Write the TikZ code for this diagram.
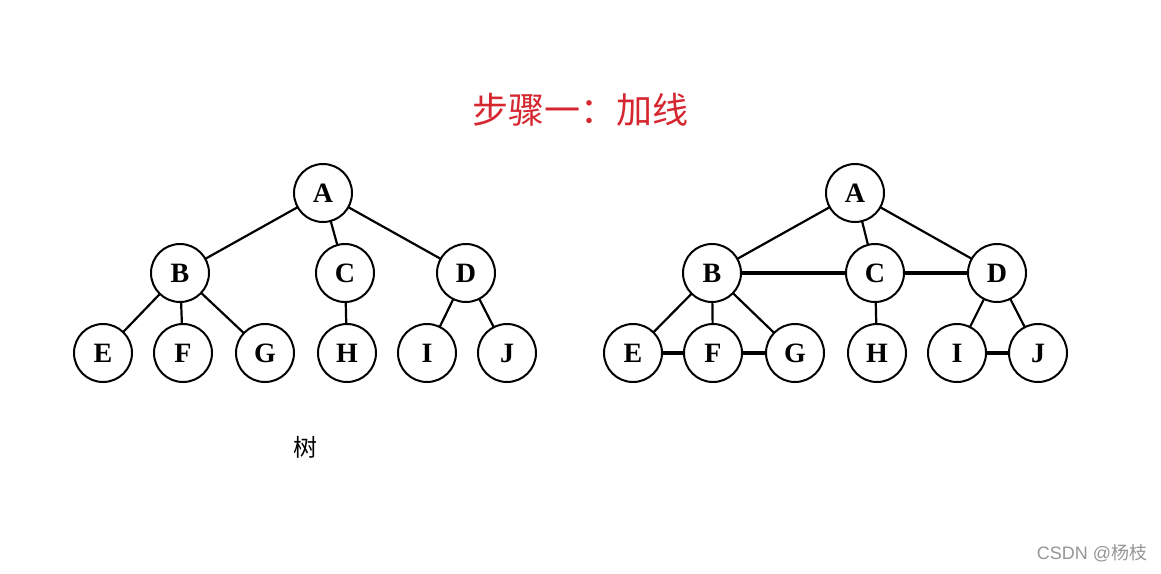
\documentclass[tikz,border=0pt]{standalone}
\usepackage{fontspec}
\setmainfont{Liberation Serif}
\newfontfamily\cjk{Noto Sans CJK SC}
\newfontfamily\wmfont{Liberation Sans}
\definecolor{titlered}{RGB}{214,38,48}
\definecolor{markgray}{RGB}{150,150,150}
\begin{document}
\begin{tikzpicture}[x=1pt,y=-1pt,
  vtx/.style={circle,draw,line width=2pt,minimum size=58pt,inner sep=0pt,outer sep=0pt,font=\fontsize{28}{28}\selectfont\bfseries},
  tedge/.style={line width=2.2pt},
  addedge/.style={line width=4.4pt}]
\useasboundingbox (0,0) rectangle (1161,573);
\fill[white] (0,0) rectangle (1161,573);
% title
\node[text=titlered,font=\cjk\fontsize{36}{36}\selectfont] (title) at (580,110) {步骤一：加线};
% left tree
\node[vtx] (A1) at (323,193) {A};
\node[vtx] (B1) at (180,273) {B};
\node[vtx] (C1) at (345,273) {C};
\node[vtx] (D1) at (466,273) {D};
\node[vtx] (E1) at (103,353) {E};
\node[vtx] (F1) at (183,353) {F};
\node[vtx] (G1) at (265,353) {G};
\node[vtx] (H1) at (347,353) {H};
\node[vtx] (I1) at (427,353) {I};
\node[vtx] (J1) at (507,353) {J};
\draw[tedge] (A1) -- (B1);
\draw[tedge] (A1) -- (C1);
\draw[tedge] (A1) -- (D1);
\draw[tedge] (B1) -- (E1);
\draw[tedge] (B1) -- (F1);
\draw[tedge] (B1) -- (G1);
\draw[tedge] (C1) -- (H1);
\draw[tedge] (D1) -- (I1);
\draw[tedge] (D1) -- (J1);
\node[font=\cjk\fontsize{24}{24}\selectfont] (shu) at (305,447) {树};
% right tree
\node[vtx] (A2) at (855,193) {A};
\node[vtx] (B2) at (712,273) {B};
\node[vtx] (C2) at (875,273) {C};
\node[vtx] (D2) at (997,273) {D};
\node[vtx] (E2) at (633,353) {E};
\node[vtx] (F2) at (713,353) {F};
\node[vtx] (G2) at (795,353) {G};
\node[vtx] (H2) at (877,353) {H};
\node[vtx] (I2) at (957,353) {I};
\node[vtx] (J2) at (1038,353) {J};
\draw[tedge] (A2) -- (B2);
\draw[tedge] (A2) -- (C2);
\draw[tedge] (A2) -- (D2);
\draw[tedge] (B2) -- (E2);
\draw[tedge] (B2) -- (F2);
\draw[tedge] (B2) -- (G2);
\draw[tedge] (C2) -- (H2);
\draw[tedge] (D2) -- (I2);
\draw[tedge] (D2) -- (J2);
\draw[addedge] (B2) -- (C2);
\draw[addedge] (C2) -- (D2);
\draw[addedge] (E2) -- (F2);
\draw[addedge] (F2) -- (G2);
\draw[addedge] (I2) -- (J2);
% watermark
\node[text=markgray,font=\fontsize{18}{18}\selectfont] (mark) at (1092,553) {\wmfont CSDN @\cjk 杨枝};
\end{tikzpicture}
\end{document}
